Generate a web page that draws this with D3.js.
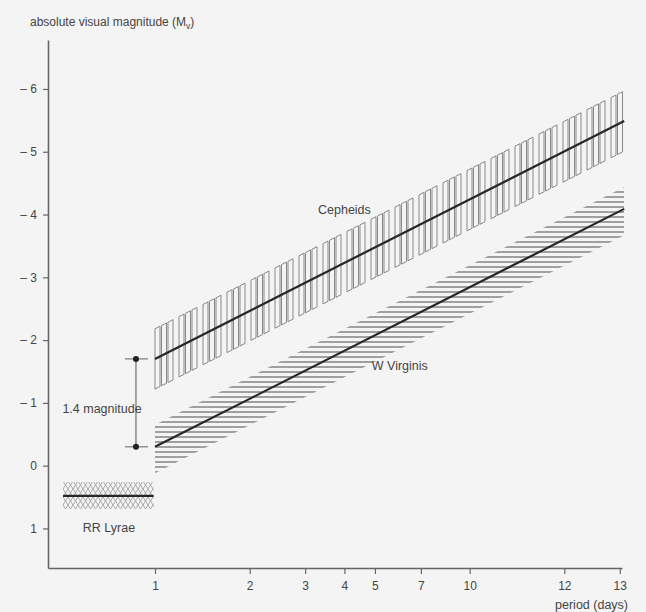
<!DOCTYPE html>
<html>
<head>
<meta charset="utf-8">
<script src="https://cdn.jsdelivr.net/npm/d3@7"></script>
<style>
  body { margin: 0; background: #f4f4f4; }
  svg { display: block; }
  text { font-family: "Liberation Sans", Arial, sans-serif; fill: #444; }
</style>
</head>
<body>
<script>
// chart values
var magTicks = [-6, -5, -4, -3, -2, -1, 0, 1];
var periodTicks = [1, 2, 3, 4, 5, 7, 10, 20, 30];
var periodTickLabels = ["1", "2", "3", "4", "5", "7", "10", "12", "13"];

var cepheidPeriod = [1, 31];
var cepheidMag = [-1.7, -5.49];
var cepheidSpread = [0.48, 0.48];   // above / below

var wvirPeriod = [1, 31];
var wvirMag = [-0.3, -4.09];
var wvirSpread = [0.35, 0.42];

var rrPeriod = [0.51, 0.99];
var rrMag = [0.48, 0.48];
var rrSpread = [0.22, 0.22];

var gapPeriod = 0.87;   // where the 1.4 magnitude marker sits

var svgWidth = 646;
var svgHeight = 612;

var svg = d3.select("body")
    .append("svg")
    .attr("width", svgWidth)
    .attr("height", svgHeight);

svg.append("rect")
    .attr("width", svgWidth)
    .attr("height", svgHeight)
    .attr("fill", "#f4f4f4");

var x = d3.scaleLog()
    .domain([0.457, 30.5])
    .range([48, 622]);

var y = d3.scaleLinear()
    .domain([-6.78, 1.63])
    .range([40, 568]);

// magnitude along a straight band (straight in log period)
function magAt(periods, mags, p) {
    var t = (Math.log(p) - Math.log(periods[0])) / (Math.log(periods[1]) - Math.log(periods[0]));
    return mags[0] + t * (mags[1] - mags[0]);
}

var line = d3.line()
    .x(d => x(d[0]))
    .y(d => y(d[1]));

// axes
var leftAxis = d3.axisLeft(y)
    .tickValues(magTicks)
    .tickSizeInner(5)
    .tickSizeOuter(0)
    .tickPadding(6)
    .tickFormat(d => d < 0 ? "\u2013 " + (-d) : d);

var bottomAxis = d3.axisBottom(x)
    .tickValues(periodTicks)
    .tickSizeInner(6)
    .tickSizeOuter(0)
    .tickPadding(7)
    .tickFormat((d, i) => periodTickLabels[i]);

var yAxis = svg.append("g")
    .attr("transform", `translate(${x.range()[0]},0)`)
    .call(leftAxis);

var xAxis = svg.append("g")
    .attr("transform", `translate(0,${y.range()[1]})`)
    .call(bottomAxis);

[yAxis, xAxis].forEach(function(a) {
    a.select(".domain").attr("stroke", "#666").attr("stroke-width", 1.6);
    a.selectAll(".tick line").attr("stroke", "#666").attr("stroke-width", 1.2);
    a.selectAll(".tick text")
        .attr("font-size", 12)
        .attr("font-family", "Liberation Sans, Arial, sans-serif")
        .attr("fill", "#555");
});

// Cepheids: narrow outlined vertical boxes, in groups of three
var cephGroup = svg.append("g");
var cx0 = x(cepheidPeriod[0]);
var cx1 = x(cepheidPeriod[1]);
var boxes = [];
for (var gx = cx0; gx + 5 <= cx1 + 1; gx += 24) {
    for (var k = 0; k < 3; k++) {
        var bx = gx + k * 6.5;
        if (bx + 5 > cx1 + 1) break;
        boxes.push([bx, bx + 5]);
    }
}
cephGroup.selectAll("polygon")
    .data(boxes)
    .enter()
    .append("polygon")
    .attr("points", function(b) {
        var ma = magAt(cepheidPeriod, cepheidMag, x.invert(b[0]));
        var mb = magAt(cepheidPeriod, cepheidMag, x.invert(b[1]));
        return [
            [b[0], y(ma - cepheidSpread[0])],
            [b[1], y(mb - cepheidSpread[0])],
            [b[1], y(mb + cepheidSpread[1])],
            [b[0], y(ma + cepheidSpread[1])]
        ].join(" ");
    })
    .attr("fill", "none")
    .attr("stroke", "#888")
    .attr("stroke-width", 1);

// W Virginis: horizontal hatching clipped to the band
var wx0 = x(wvirPeriod[0]);
var wx1 = x(wvirPeriod[1]);
var wvirPoly = [
    [wx0, y(wvirMag[0] - wvirSpread[0])],
    [wx1, y(wvirMag[1] - wvirSpread[0])],
    [wx1, y(wvirMag[1] + wvirSpread[1])],
    [wx0, y(wvirMag[0] + wvirSpread[1])]
];
svg.append("clipPath")
    .attr("id", "wvir-clip")
    .append("polygon")
    .attr("points", wvirPoly.join(" "));

var hatchY = d3.range(y(wvirMag[1] - wvirSpread[0]), y(wvirMag[0] + wvirSpread[1]), 5);
svg.append("g")
    .attr("clip-path", "url(#wvir-clip)")
    .selectAll("line")
    .data(hatchY)
    .enter()
    .append("line")
    .attr("x1", wx0)
    .attr("x2", wx1)
    .attr("y1", d => d)
    .attr("y2", d => d)
    .attr("stroke", "#a0a0a0")
    .attr("stroke-width", 2);

// RR Lyrae: small mesh pattern
var rx0 = x(rrPeriod[0]);
var rx1 = x(rrPeriod[1]);
var ry0 = y(rrMag[0] - rrSpread[0]);
var ry1 = y(rrMag[0] + rrSpread[1]);
svg.append("clipPath")
    .attr("id", "rr-clip")
    .append("rect")
    .attr("x", rx0)
    .attr("y", ry0)
    .attr("width", rx1 - rx0)
    .attr("height", ry1 - ry0);

var meshRows = d3.range(ry0 + 1, ry1, 4);
svg.append("g")
    .attr("clip-path", "url(#rr-clip)")
    .selectAll("path")
    .data(meshRows)
    .enter()
    .append("path")
    .attr("d", function(ry, i) {
        var pts = [];
        var off = (i % 2) * 2.5;
        for (var px = rx0 - 5 + off, j = 0; px <= rx1 + 5; px += 2.5, j++) {
            pts.push([px, ry + (j % 2 ? 2 : -2)]);
        }
        return d3.line()(pts);
    })
    .attr("fill", "none")
    .attr("stroke", "#999")
    .attr("stroke-width", 0.8);

// centre lines
var centreLines = [
    [[cepheidPeriod[0], cepheidMag[0]], [cepheidPeriod[1], cepheidMag[1]]],
    [[wvirPeriod[0], wvirMag[0]], [wvirPeriod[1], wvirMag[1]]],
    [[rrPeriod[0], rrMag[0]], [rrPeriod[1], rrMag[1]]]
];
svg.append("g")
    .selectAll("path")
    .data(centreLines)
    .enter()
    .append("path")
    .attr("d", line)
    .attr("fill", "none")
    .attr("stroke", "#262626")
    .attr("stroke-width", 2.2);

// 1.4 magnitude marker
var gx0 = x(gapPeriod);
var gapMags = [magAt(cepheidPeriod, cepheidMag, 1), magAt(wvirPeriod, wvirMag, 1)];
var marker = svg.append("g");
marker.append("line")
    .attr("x1", gx0).attr("x2", gx0)
    .attr("y1", y(gapMags[0])).attr("y2", y(gapMags[1]))
    .attr("stroke", "#555").attr("stroke-width", 1);
marker.selectAll("line.end")
    .data(gapMags)
    .enter()
    .append("line")
    .attr("class", "end")
    .attr("x1", gx0 - 11).attr("x2", gx0 + 12)
    .attr("y1", d => y(d)).attr("y2", d => y(d))
    .attr("stroke", "#666").attr("stroke-width", 1);
marker.selectAll("circle")
    .data(gapMags)
    .enter()
    .append("circle")
    .attr("cx", gx0)
    .attr("cy", d => y(d))
    .attr("r", 3)
    .attr("fill", "#222");

// labels
svg.append("text")
    .attr("x", 102).attr("y", 413)
    .attr("text-anchor", "middle")
    .attr("font-size", 12.5)
    .text("1.4 magnitude");

svg.append("text")
    .attr("x", x(4.0)).attr("y", y(-4.07) + 4)
    .attr("text-anchor", "middle")
    .attr("font-size", 12.5)
    .text("Cepheids");

svg.append("text")
    .attr("x", x(6.0)).attr("y", y(-1.59) + 4)
    .attr("text-anchor", "middle")
    .attr("font-size", 12.5)
    .text("W Virginis");

svg.append("text")
    .attr("x", 109).attr("y", 532)
    .attr("text-anchor", "middle")
    .attr("font-size", 12.5)
    .text("RR Lyrae");

var yTitle = svg.append("text")
    .attr("x", 30).attr("y", 26)
    .attr("font-size", 12)
    .text("absolute visual magnitude (M");
yTitle.append("tspan")
    .attr("font-size", 8.5)
    .attr("dy", 3)
    .text("v");
yTitle.append("tspan")
    .attr("dy", -3)
    .text(")");

svg.append("text")
    .attr("x", 628).attr("y", 609)
    .attr("text-anchor", "end")
    .attr("font-size", 12.5)
    .text("period (days)");
</script>
</body>
</html>
